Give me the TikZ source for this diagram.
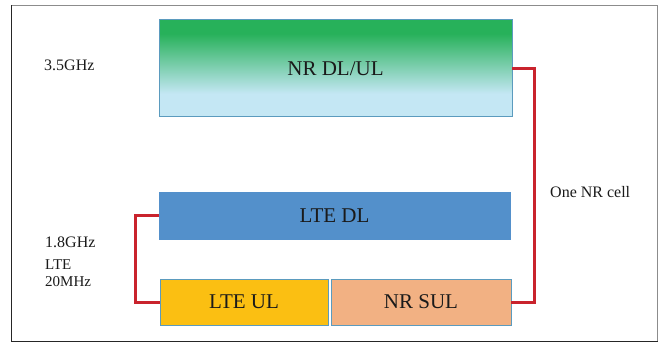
\documentclass[tikz,border=0pt]{standalone}
\usepackage{fontspec}
\setmainfont{Liberation Serif}
\definecolor{nrgreen}{HTML}{27B15A}
\definecolor{nrblue}{HTML}{C4E7F4}
\definecolor{ltedlc}{HTML}{5390CB}
\definecolor{lteulc}{HTML}{FBBF12}
\definecolor{nrsulc}{HTML}{F2B183}
\definecolor{boxedge}{HTML}{5B9BBE}
\definecolor{redc}{HTML}{C9232D}
\definecolor{txt}{HTML}{1A1A1A}
\pgfdeclareverticalshading{nrshade}{100bp}{color(0bp)=(nrblue); color(37bp)=(nrblue); color(68bp)=(nrgreen); color(100bp)=(nrgreen)}
\tikzset{
  band/.style={draw=boxedge, line width=1pt, inner sep=0pt, outer sep=0pt,
    text=txt, font=\fontsize{21}{25}\selectfont},
  lbl/.style={inner sep=0pt, anchor=west, text=txt},
  redlink/.style={draw=redc, line width=3pt, line join=miter}
}
\begin{document}
\begin{tikzpicture}[x=1pt, y=-1pt]
\useasboundingbox (0,0) rectangle (661,342);
% outer frame
\draw[black!45, line width=1pt] (11.5,341) |- (657.5,5.5) -- (657.5,341);
\draw[black!85, line width=1pt] (657.5,341) -- (11.5,341) -- (11.5,5.5);

\node[band, shading=nrshade, minimum width=353pt, minimum height=97pt] (nrdl) at (335.5,68.5) {NR DL/UL};
\node[band, draw=ltedlc, fill=ltedlc, minimum width=351pt, minimum height=47pt] (ltedl) at (334.5,215.5) {LTE DL};
\node[band, fill=lteulc, minimum width=168pt, minimum height=46pt] (lteul) at (244,302) {LTE UL};
\node[band, fill=nrsulc, minimum width=180pt, minimum height=46pt] (nrsul) at (421,302) {NR SUL};

\draw[redlink] (nrdl.east) -- ++(22.5,0) coordinate (rc) |- (nrsul.east);
\draw[redlink] (ltedl.west) -- ++(-24,0) coordinate (lc) |- (lteul.west);

\node[lbl, font=\fontsize{16}{19}\selectfont] (f35) at (44,65) {3.5GHz};
\node[lbl, font=\fontsize{16}{19}\selectfont] (f18) at (45,242.5) {1.8GHz};
\node[lbl, font=\fontsize{15}{18}\selectfont] (lte) at (45,265) {LTE};
\node[lbl, font=\fontsize{15}{18}\selectfont] (bw) at (45,281.5) {20MHz};
\node[lbl, font=\fontsize{16}{19}\selectfont] (cell) at (550,192) {One NR cell};
\end{tikzpicture}
\end{document}
